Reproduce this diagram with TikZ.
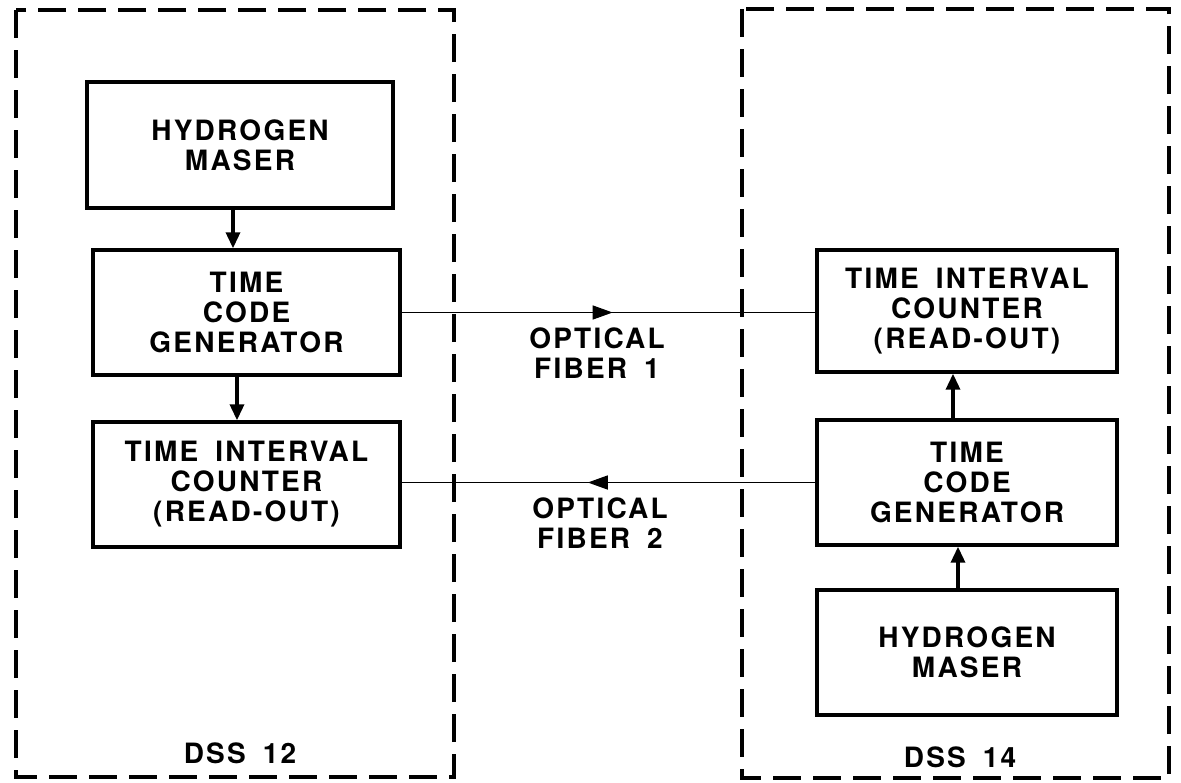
\documentclass[tikz,border=0pt]{standalone}
\usepackage{fontspec}
\newfontfamily\labfont{TeX Gyre Heros}[LetterSpace=8]
\usetikzlibrary{arrows.meta,decorations.markings}
\newcommand\wsp{\hspace{17pt}}
\begin{document}
\begin{tikzpicture}[x=1pt,y=-1pt,
  lab/.style={font=\labfont\bfseries\fontsize{28}{30}\selectfont, align=center, inner sep=0pt},
  blk/.style={lab, draw, line width=3.4pt, minimum width=#1, minimum height=125pt},
  site/.style={draw, line width=3.8pt, dash pattern=on 28pt off 12pt},
  down/.style={line width=3.4pt, -{Triangle[length=16pt,width=14pt]}},
  fiber/.style={line width=1.5pt, postaction={decorate}},
  midarrow/.style={decoration={markings, mark=at position #1 with {\arrow{Triangle[length=20pt,width=14pt]}}}}
]
\useasboundingbox (0,0) rectangle (1181,782);
% dashed site boundaries
\draw[site] (16,10) rectangle (454,777);
\draw[site] (742,9) rectangle (1169,778);
% left site
\node[blk=306pt, minimum height=126pt] (hm1) at (240,145) {HYDROGEN\\MASER};
\node[blk=307pt] (tcg1) at (246.5,312.5) {TIME\\CODE\\GENERATOR};
\node[blk=307pt] (tic1) at (246.5,484.5) {TIME\wsp INTERVAL\\COUNTER\\(READ-OUT)};
% right site
\node[blk=300pt, minimum height=122pt] (tic2) at (967,311) {TIME\wsp INTERVAL\\COUNTER\\(READ-OUT)};
\node[blk=300pt] (tcg2) at (967,482.5) {TIME\\CODE\\GENERATOR};
\node[blk=300pt] (hm2) at (967,652.5) {HYDROGEN\\MASER};
% vertical arrows
\draw[down] ([xshift=-7pt]hm1.south) -- ([xshift=-7pt]hm1.south |- tcg1.north);
\draw[down] ([xshift=-9.5pt]tcg1.south) -- ([xshift=-9.5pt]tcg1.south |- tic1.north);
\draw[down] ([xshift=-14pt]tcg2.north) -- ([xshift=-14pt]tcg2.north |- tic2.south);
\draw[down] ([xshift=-9pt]hm2.north) -- ([xshift=-9pt]hm2.north |- tcg2.south);
% optical fibers
\draw[fiber, midarrow=0.51] (tcg1.east) -- (tcg1.east -| tic2.west);
\draw[fiber, midarrow=0.55] (tcg2.west) -- (tcg2.west -| tic1.east);
\node[lab] (f1) at (597,353) {OPTICAL\\FIBER\wsp 1};
\node[lab] (f2) at (600,523) {OPTICAL\\FIBER\wsp 2};
% site labels
\node[lab] (dss12) at (240,753) {DSS\wsp 12};
\node[lab] (dss14) at (960,757) {DSS\wsp 14};
\end{tikzpicture}
\end{document}
